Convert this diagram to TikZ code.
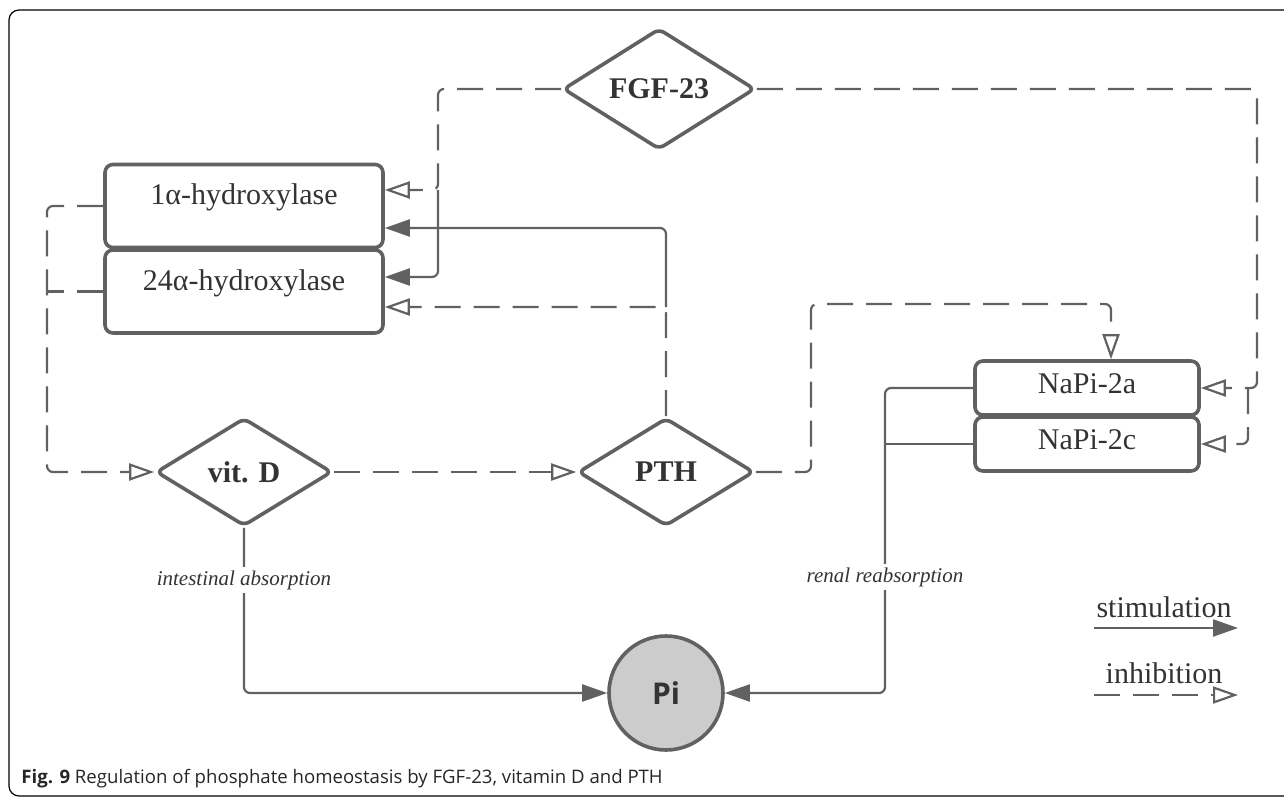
\documentclass[tikz,border=0pt]{standalone}
\usepackage{fontspec}
\setmainfont{Liberation Serif}
\newfontfamily\capfont{Open Sans}
\usetikzlibrary{shapes.geometric}
\usetikzlibrary{arrows.meta}
\usetikzlibrary{calc}
\definecolor{linec}{RGB}{97,97,97}
\definecolor{textc}{RGB}{51,51,51}
\definecolor{pifill}{RGB}{204,204,204}
\tikzstyle{line} = [draw=linec, line width=1.1pt, rounded corners=3pt]
\tikzstyle{stim} = [line, -{Triangle[length=12.5pt,width=8.5pt]}]
\tikzstyle{dashline} = [line, dash pattern=on 13pt off 6.5pt]
\tikzstyle{inhib} = [dashline, -{Triangle[open,length=12.5pt,width=8.5pt,fill=white]}]
\tikzstyle{hydbox} = [draw=linec, line width=1.8pt, rounded corners=4pt, minimum width=139pt, minimum height=41.5pt, inner sep=0pt, text=textc, font=\fontsize{15}{18}\selectfont, text height=10.5pt, text depth=12pt]
\tikzstyle{napibox} = [draw=linec, line width=1.8pt, rounded corners=4pt, minimum width=112pt, minimum height=27pt, inner sep=0pt, text=textc, font=\fontsize{15}{18}\selectfont, text height=8.5pt, text depth=3.5pt]
\tikzstyle{hormone} = [diamond, shape aspect=1.6, draw=linec, line width=1.8pt, rounded corners=3pt, inner sep=0pt, minimum width=88pt, minimum height=54pt, fill=white, text=textc, font=\fontsize{15}{18}\selectfont\bfseries]
\tikzstyle{lbl} = [fill=white, inner sep=1.5pt, text=textc, font=\fontsize{10.5}{12}\selectfont\itshape]
\tikzstyle{legtxt} = [inner sep=0pt, text=textc, font=\fontsize{15}{18}\selectfont]

\begin{document}
\begin{tikzpicture}[x=0.5pt, y=-0.5pt]
\useasboundingbox (0,0) rectangle (1284,797);
\draw[black, line width=0.6pt, rounded corners=5pt] (9,10) rectangle (1310,796);

\node[hormone, minimum width=96pt, minimum height=60.5pt] (FGF) at (659,89) {FGF-23};
\node[hydbox] (hyd1) at (244,206) {1α-hydroxylase};
\node[hydbox] (hyd24) at (244,291.5) {24α-hydroxylase};
\node[hormone] (vitD) at (244,472) {vit. D};
\node[hormone] (PTH) at (666,472) {PTH};
\node[napibox] (napia) at (1087,388) {NaPi-2a};
\node[napibox] (napic) at (1087,444) {NaPi-2c};
\node[circle, draw=linec, line width=1.8pt, fill=pifill, minimum size=57pt, inner sep=0pt, text=textc, font=\capfont\fontsize{15}{18}\selectfont\bfseries] (Pi) at (666,693) {Pi};

\coordinate (fgfL) at (438,190);
\draw[inhib] (FGF.west) -| (fgfL) -- (fgfL -| hyd1.east);
\draw[stim] (fgfL) |- ($(hyd24.east)+(0,-14.5)$);

\coordinate (h24lo) at ($(hyd24.east)+(0,15.5)$);
\draw[inhib] (PTH.north) |- (h24lo);
\draw[stim] (PTH.north |- h24lo) |- ($(hyd1.east)+(0,22)$);

\coordinate (vitL) at (47,472);
\draw[inhib] (hyd1.west) -| (vitL) -- (vitD.west);
\draw[dashline] (hyd24.west) -- (hyd24.west -| vitL);
\draw[inhib] (vitD.east) -- (PTH.west);

\coordinate (pthUp) at (811,304);
\draw[inhib] (PTH.east) -| (pthUp) -| ($(napia.north)+(24,0)$);

\coordinate (fgfR) at (1257,388);
\coordinate (fgfR2) at (1248,388);
\draw[inhib] (FGF.east) -| (fgfR) -- (napia.east);
\draw[inhib] (fgfR2) |- (napic.east);

\coordinate (renalB) at (885,693);
\draw[stim] (napia.west) -| (renalB) -- (Pi.east);
\draw[line] (napic.west) -- (napic.west -| renalB);
\draw[stim] (vitD.south) |- (Pi.west);

\node[lbl] (renal) at (885,577) {renal reabsorption};
\node[lbl] (intest) at (244,580) {intestinal absorption};

\node[legtxt] (stimtxt) at (1164,607) {stimulation};
\coordinate (stimA) at (1094,628);
\coordinate (stimB) at (1238,628);
\draw[stim] (stimA) -- (stimB);
\node[legtxt] (inhtxt) at (1164,673) {inhibition};
\coordinate (inhA) at (1094,695);
\coordinate (inhB) at (1238,695);
\draw[inhib] (inhA) -- (inhB);

\node[anchor=west, inner sep=0pt, text=black!85, font=\capfont\fontsize{9.3}{11}\selectfont] (caption) at (21,779) {\textbf{Fig. 9} Regulation of phosphate homeostasis by FGF-23, vitamin D and PTH};
\end{tikzpicture}
\end{document}
